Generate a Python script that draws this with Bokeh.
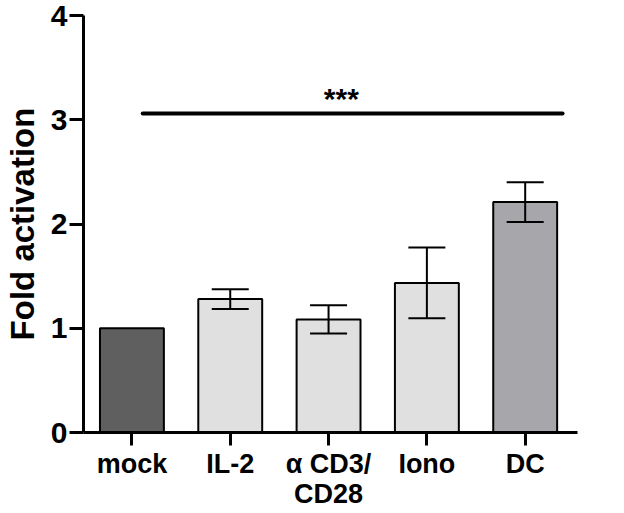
from bokeh.plotting import figure
from bokeh.models import ColumnDataSource, Whisker, FixedTicker, Range1d
from bokeh.core.properties import value
from bokeh.embed import file_html
from bokeh.resources import INLINE

# ---- data ----
categories = ["mock", "IL-2", "α CD3/\nCD28", "Iono", "DC"]
means = [1.00, 1.28, 1.085, 1.435, 2.21]
sems = [0.0, 0.095, 0.135, 0.34, 0.19]
bar_colors = ["#5f5f5f", "#e0e0e0", "#e0e0e0", "#e0e0e0", "#a7a7ab"]
y_ticks = [0, 1, 2, 3, 4]
sig_start = 0.11
sig_end = 4.38
sig_y = 3.06
sig_label = "***"
sig_label_x = 2.13
sig_label_y = 3.2

FONT = "Liberation Sans"

xs = list(range(len(categories)))
src = ColumnDataSource(dict(x=xs, top=means, color=bar_colors))

err_idx = [i for i, s in enumerate(sems) if s > 0]
err_src = ColumnDataSource(dict(
    x=[xs[i] for i in err_idx],
    lower=[means[i] - sems[i] for i in err_idx],
    upper=[means[i] + sems[i] for i in err_idx],
))

p = figure(width=610, height=512, output_backend="svg", toolbar_location=None,
           x_range=Range1d(-0.4925, 4.532), y_range=Range1d(0, 4))
p.min_border_left = 77
p.min_border_right = 33
p.min_border_top = 15
p.min_border_bottom = 80
p.outline_line_color = None
p.background_fill_color = "white"
p.border_fill_color = "white"
p.xgrid.visible = False
p.ygrid.visible = False

p.vbar(x="x", top="top", bottom=0, width=0.65, fill_color="color",
       line_color="black", line_width=2, source=src)

w = Whisker(base="x", lower="lower", upper="upper", source=err_src,
            line_color="black", line_width=2, level="overlay")
w.upper_head.size = 37
w.lower_head.size = 37
w.upper_head.line_width = 2
w.lower_head.line_width = 2
w.upper_head.line_color = "black"
w.lower_head.line_color = "black"
p.add_layout(w)

p.segment(x0=[sig_start], x1=[sig_end], y0=[sig_y], y1=[sig_y],
          line_color="black", line_width=4, line_cap="round")
p.text(x=[sig_label_x], y=[sig_label_y], text=[sig_label],
       text_font=value(FONT), text_font_style="bold", text_font_size="30px",
       text_align="center", text_baseline="alphabetic", text_color="black")

# axes
xa = p.xaxis[0]
xa.ticker = FixedTicker(ticks=xs)
xa.major_label_overrides = {i: c for i, c in zip(xs, categories)}
xa.axis_line_width = 3
xa.axis_line_color = "black"
xa.major_tick_line_width = 3
xa.major_tick_out = 13
xa.major_tick_in = 0
xa.minor_tick_line_color = None
xa.major_label_text_font = FONT
xa.major_label_text_font_style = "bold"
xa.major_label_text_font_size = "27px"
xa.major_label_text_color = "black"
xa.major_label_text_line_height = 1.0
xa.major_label_standoff = 3

ya = p.yaxis[0]
ya.ticker = FixedTicker(ticks=y_ticks)
ya.axis_line_width = 3
ya.axis_line_color = "black"
ya.major_tick_line_width = 3
ya.major_tick_out = 14
ya.major_tick_in = 0
ya.minor_tick_line_color = None
ya.major_label_text_font = FONT
ya.major_label_text_font_style = "bold"
ya.major_label_text_font_size = "30px"
ya.major_label_text_color = "black"
ya.major_label_standoff = 2
ya.axis_label = "Fold activation"
ya.axis_label_text_font = FONT
ya.axis_label_text_font_style = "bold"
ya.axis_label_text_font_size = "33px"
ya.axis_label_text_color = "black"
ya.axis_label_standoff = 7

open("out.html", "w").write(file_html(p, INLINE))
